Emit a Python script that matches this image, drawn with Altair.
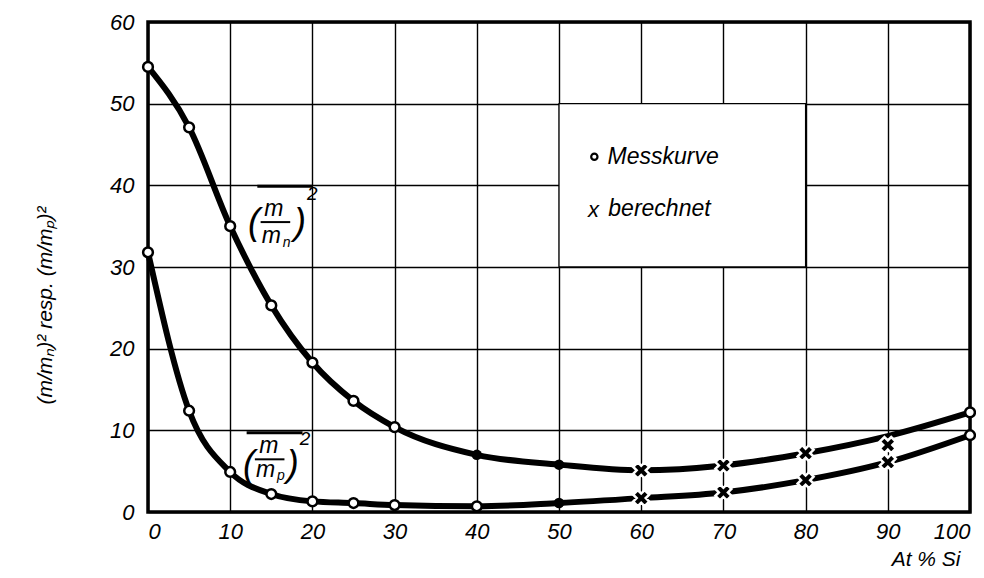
import altair as alt
import pandas as pd

# ---- data ----
x_pos = [0, 5, 10, 15, 20, 25, 30, 40, 50, 60, 70, 80, 90, 100]
upper_line = [54.5, 47.1, 35.0, 25.3, 18.3, 13.6, 10.4, 7.0, 5.8, 5.1, 5.7, 7.2, 9.3, 12.2]
lower_line = [31.8, 12.4, 4.9, 2.2, 1.3, 1.1, 0.85, 0.7, 1.1, 1.7, 2.4, 3.9, 6.1, 9.4]

# markers
upper_open_x = [0, 5, 10, 15, 20, 25, 30, 100]
upper_open_y = [54.5, 47.1, 35.0, 25.3, 18.3, 13.6, 10.4, 12.2]
lower_open_x = [0, 5, 10, 15, 20, 25, 30, 40, 100]
lower_open_y = [31.8, 12.4, 4.9, 2.2, 1.3, 1.1, 0.85, 0.7, 9.4]
filled_x = [40, 50, 50]
filled_y = [7.0, 5.8, 1.1]
cross_x = [60, 70, 80, 90, 60, 70, 80, 90]
cross_y = [5.1, 5.7, 7.2, 8.2, 1.7, 2.4, 3.9, 6.1]

x_ticks = [0, 10, 20, 30, 40, 50, 60, 70, 80, 90, 100]
y_ticks = [0, 10, 20, 30, 40, 50, 60]

legend_box = {"x": 50, "x2": 80, "y": 30, "y2": 50}
legend_labels = ["Messkurve", "berechnet"]

FONT = "Liberation Sans"

lines_df = pd.DataFrame(
    {"x": x_pos * 2, "y": upper_line + lower_line,
     "curve": ["n"] * len(x_pos) + ["p"] * len(x_pos)}
)
open_df = pd.DataFrame({"x": upper_open_x + lower_open_x, "y": upper_open_y + lower_open_y})
filled_df = pd.DataFrame({"x": filled_x, "y": filled_y})
cross_df = pd.DataFrame({"x": cross_x, "y": cross_y})

xs = alt.X("x:Q", scale=alt.Scale(domain=[0, 100], nice=False),
           axis=alt.Axis(values=x_ticks, title="At % Si", titleAnchor="end",
                         titleAlign="right", titleBaseline="middle",
                         titleX=812, titleY=47))
ys = alt.Y("y:Q", scale=alt.Scale(domain=[0, 60], nice=False),
           axis=alt.Axis(values=y_ticks, title="(m/mₙ)² resp. (m/mₚ)²",
                         titleX=-103, titleY=283, titleAngle=-90,
                         titleAlign="center", titleBaseline="middle"))

lines = alt.Chart(lines_df).mark_line(
    color="black", strokeWidth=6, interpolate="monotone"
).encode(x=xs, y=ys, detail="curve:N")

box = alt.Chart(pd.DataFrame([legend_box])).mark_rect(
    fill="white", stroke="black", strokeWidth=1.3
).encode(x="x:Q", x2="x2:Q", y="y:Q", y2="y2:Q")

opens = alt.Chart(open_df).mark_point(
    shape="circle", size=95, filled=True, fill="white", stroke="black",
    strokeWidth=2.5, opacity=1
).encode(x="x:Q", y="y:Q")

filleds = alt.Chart(filled_df).mark_point(
    shape="circle", size=110, filled=True, color="black", opacity=1
).encode(x="x:Q", y="y:Q")

crosses = alt.Chart(cross_df).mark_point(
    shape="cross", size=260, angle=45, filled=True, fill="black",
    stroke="white", strokeWidth=2.5, opacity=1
).encode(x="x:Q", y="y:Q")

# legend inside the white box
leg_sym = pd.DataFrame({"x": [54.3], "y": [43.5]})
leg_circle = alt.Chart(leg_sym).mark_point(
    shape="circle", size=40, filled=True, fill="white", stroke="black",
    strokeWidth=2.2, opacity=1
).encode(x="x:Q", y="y:Q")
leg_text_df = pd.DataFrame({"x": [55.9, 56.0], "y": [43.5, 37.1],
                            "t": legend_labels})
leg_text = alt.Chart(leg_text_df).mark_text(
    align="left", baseline="middle", font=FONT, fontStyle="italic",
    fontSize=23, color="black"
).encode(x="x:Q", y="y:Q", text="t:N")
leg_x = alt.Chart(pd.DataFrame({"x": [54.2], "y": [37.0], "t": ["x"]})).mark_text(
    align="center", baseline="middle", font=FONT, fontStyle="italic",
    fontSize=22, color="black"
).encode(x="x:Q", y="y:Q", text="t:N")

# formula annotations near curves: overline (m / m_n)^2
paren_df = pd.DataFrame({
    "x": [12.9, 18.5, 12.3, 17.6],
    "y": [35.4, 35.4, 5.8, 5.8],
    "t": ["(", ")", "(", ")"],
})
paren_text = alt.Chart(paren_df).mark_text(
    align="center", baseline="middle", font=FONT, fontStyle="italic",
    fontSize=36, color="black"
).encode(x="x:Q", y="y:Q", text="t:N")

frac_df = pd.DataFrame({
    "x": [15.3, 15.0, 14.7, 14.3],
    "y": [36.2, 32.9, 7.2, 4.3],
    "t": ["m", "m", "m", "m"],
})
frac_text = alt.Chart(frac_df).mark_text(
    align="center", baseline="alphabetic", font=FONT, fontStyle="italic",
    fontSize=23, color="black"
).encode(x="x:Q", y="y:Q", text="t:N")

sub_df = pd.DataFrame({
    "x": [16.4, 15.7],
    "y": [32.4, 3.9],
    "t": ["n", "p"],
})
sub_text = alt.Chart(sub_df).mark_text(
    align="left", baseline="alphabetic", font=FONT, fontStyle="italic",
    fontSize=14, color="black"
).encode(x="x:Q", y="y:Q", text="t:N")

sup_df = pd.DataFrame({"x": [20.0, 19.1], "y": [38.9, 8.9], "t": ["2", "2"]})
sup_text = alt.Chart(sup_df).mark_text(
    align="center", baseline="middle", font=FONT, fontStyle="italic",
    fontSize=19, color="black"
).encode(x="x:Q", y="y:Q", text="t:N")

ann_rules_df = pd.DataFrame({
    "x": [13.7, 13.3, 13.0, 12.0],
    "x2": [17.3, 20.0, 16.6, 18.8],
    "y": [35.5, 39.9, 6.45, 9.7],
    "w": [2.0, 3.0, 2.0, 3.0],
})
ann_rules = alt.Chart(ann_rules_df).mark_rule(color="black").encode(
    x="x:Q", x2="x2:Q", y="y:Q",
    strokeWidth=alt.StrokeWidth("w:Q", scale=None, legend=None))

chart = alt.layer(
    lines, box, opens, filleds, crosses, leg_circle, leg_text, leg_x,
    paren_text, frac_text, sub_text, sup_text, ann_rules
).properties(
    width=822, height=490,
    autosize=alt.AutoSizeParams(type="none"),
    padding={"left": 140, "top": 14, "right": 6, "bottom": 58},
    background="white",
).configure_view(
    stroke="black", strokeWidth=3.5
).configure_axis(
    grid=True, gridColor="black", gridWidth=1.4, gridOpacity=1,
    domain=False, ticks=False,
    labelFont=FONT, labelFontStyle="italic", labelFontSize=22,
    labelColor="black",
    titleFont=FONT, titleFontStyle="italic", titleFontWeight="normal",
    titleFontSize=21, titleColor="black",
).configure_axisX(
    labelPadding=9
).configure_axisY(
    labelPadding=14, labelBaseline="middle"
)

chart.save("out.html", embed_options={"renderer": "svg", "actions": False})
